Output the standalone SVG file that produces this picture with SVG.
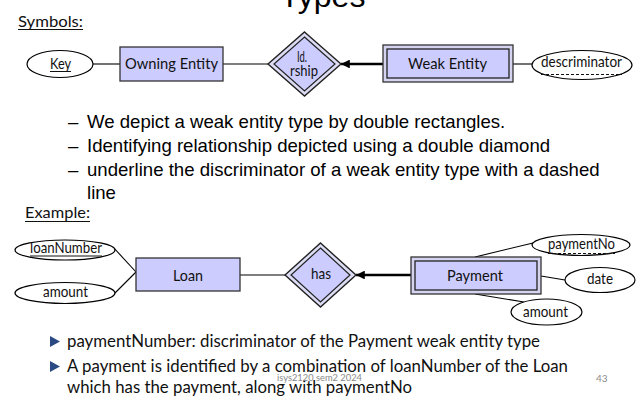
<svg xmlns="http://www.w3.org/2000/svg" width="640" height="404" viewBox="0 0 640 404">
<style>
.ent{fill:#ccccff;stroke:#333;stroke-width:1.3}
.attr{fill:#fff;stroke:#000;stroke-width:1.2}
.conn{stroke:#000;stroke-width:1.1;fill:none}
.idconn{stroke:#000;stroke-width:2.6;fill:none}
.lbl{font-family:Lato,"Open Sans","Noto Sans",sans-serif;font-size:15px;fill:#111;text-anchor:middle}
.ul{stroke:#111;stroke-width:1}
.dul{stroke:#111;stroke-width:1;stroke-dasharray:3,2}
.arial{font-family:"Liberation Sans",Arial,sans-serif;fill:#000}
.cal{font-family:Lato,"Open Sans","Noto Sans",sans-serif;fill:#111}
</style>
<defs>
<marker id="ah" viewBox="0 0 10 10" refX="10" refY="5" markerWidth="3.4" markerHeight="3.4" orient="auto-start-reverse" markerUnits="strokeWidth">
<path d="M0,0 L10,5 L0,10 z" fill="#000"/>
</marker>
</defs>
<rect width="640" height="404" fill="#fff"/>

<text x="280" y="7" class="arial" font-size="32">Types</text>

<g id="symbols-heading">
<text x="18" y="26.5" class="cal" font-size="16" textLength="65" lengthAdjust="spacingAndGlyphs">Symbols:</text>
<line x1="18" y1="29.5" x2="83" y2="29.5" class="ul"/>
</g>

<g id="connectors">
<line x1="93" y1="64" x2="120" y2="64" class="conn"/>
<line x1="223" y1="64" x2="268" y2="64" class="conn"/>
<line x1="383" y1="64" x2="341" y2="64" class="idconn" marker-end="url(#ah)"/>
<line x1="513" y1="64" x2="532" y2="64" class="conn"/>
<line x1="113" y1="247" x2="136" y2="272" class="conn"/>
<line x1="115" y1="293" x2="136" y2="272" class="conn"/>
<line x1="240" y1="275" x2="285" y2="275" class="conn"/>
<line x1="411" y1="275" x2="356" y2="275" class="idconn" marker-end="url(#ah)"/>
<line x1="475" y1="257" x2="533" y2="243" class="conn"/>
<line x1="541" y1="276" x2="565" y2="280" class="conn"/>
<line x1="475" y1="294" x2="524" y2="302" class="conn"/>
</g>

<g id="key">
<ellipse cx="60" cy="64" rx="33" ry="13.5" class="attr"/>
<text x="60.5" y="68.5" class="lbl" font-size="14" textLength="21" lengthAdjust="spacingAndGlyphs">Key</text>
<line x1="50" y1="71.5" x2="71" y2="71.5" class="ul"/>
</g>

<g id="owning-entity">
<rect x="120" y="47" width="103" height="34" class="ent"/>
<text x="171.5" y="69" class="lbl" textLength="93" lengthAdjust="spacingAndGlyphs">Owning Entity</text>
</g>

<g id="id-rship">
<polygon points="304.5,32 341,64 304.5,96 268,64" class="ent" style="fill:#dcdcf4;stroke:#222;stroke-width:1.4"/>
<polygon points="304.5,37 335,64 304.5,91 274,64" class="ent" style="stroke:#222;stroke-width:1.2"/>
<text x="302" y="61.5" class="lbl" font-size="11.5" textLength="10" lengthAdjust="spacingAndGlyphs">Id.</text>
<text x="304" y="75.5" class="lbl" font-size="11.5" textLength="28" lengthAdjust="spacingAndGlyphs">rship</text>
</g>

<g id="weak-entity">
<rect x="383" y="45" width="130" height="37" class="ent" style="fill:#d4d4f0;stroke:#333"/>
<rect x="387" y="49" width="122" height="29" class="ent" style="stroke:#222"/>
<text x="447.5" y="68.5" class="lbl" textLength="79" lengthAdjust="spacingAndGlyphs">Weak Entity</text>
</g>

<g id="discriminator">
<ellipse cx="582" cy="65" rx="50" ry="14.5" class="attr"/>
<text x="581.5" y="67" class="lbl" font-size="14" textLength="81" lengthAdjust="spacingAndGlyphs">descriminator</text>
<line x1="541" y1="74.5" x2="622" y2="74.5" class="dul"/>
</g>

<g id="dash-bullets" class="arial" font-size="18.6">
<text x="68" y="128">–</text>
<text x="87" y="128">We depict a weak entity type by double rectangles.</text>
<text x="68" y="152">–</text>
<text x="87" y="152">Identifying relationship depicted using a double diamond</text>
<text x="68" y="176">–</text>
<text x="87" y="176">underline the discriminator of a weak entity type with a dashed</text>
<text x="87" y="198.5">line</text>
</g>

<g id="example-heading">
<text x="25" y="218" class="cal" font-size="16" textLength="65" lengthAdjust="spacingAndGlyphs">Example:</text>
<line x1="25" y1="221.5" x2="90" y2="221.5" class="ul"/>
</g>

<g id="loanNumber">
<ellipse cx="65" cy="250" rx="50" ry="10" class="attr"/>
<text x="66" y="253" class="lbl" font-size="13.5" textLength="72" lengthAdjust="spacingAndGlyphs">loanNumber</text>
<line x1="30" y1="256" x2="102" y2="256" class="ul"/>
</g>

<g id="loan-amount">
<ellipse cx="65" cy="293" rx="50" ry="10.5" class="attr"/>
<text x="65.5" y="297" class="lbl" font-size="13.5" textLength="45" lengthAdjust="spacingAndGlyphs">amount</text>
</g>

<g id="loan">
<rect x="136" y="258" width="104" height="33" class="ent"/>
<text x="188" y="281" class="lbl" textLength="30" lengthAdjust="spacingAndGlyphs">Loan</text>
</g>

<g id="has">
<polygon points="320.5,243 356,275 320.5,307 285,275" class="ent" style="fill:#dcdcf4;stroke:#222;stroke-width:1.4"/>
<polygon points="320.5,248 350,275 320.5,302 291,275" class="ent" style="stroke:#222;stroke-width:1.2"/>
<text x="321" y="279" class="lbl" font-size="13" textLength="20" lengthAdjust="spacingAndGlyphs">has</text>
</g>

<g id="payment">
<rect x="411" y="257" width="130" height="37" class="ent" style="fill:#d4d4f0;stroke:#333"/>
<rect x="415" y="261" width="122" height="29" class="ent" style="stroke:#222"/>
<text x="475" y="281" class="lbl" textLength="56" lengthAdjust="spacingAndGlyphs">Payment</text>
</g>

<g id="paymentNo">
<ellipse cx="581" cy="245" rx="49" ry="10.5" class="attr"/>
<text x="581.5" y="249" class="lbl" font-size="13.5" textLength="67" lengthAdjust="spacingAndGlyphs">paymentNo</text>
<line x1="548" y1="253.5" x2="615" y2="253.5" class="dul"/>
</g>

<g id="date">
<ellipse cx="600" cy="280" rx="35" ry="12.5" class="attr"/>
<text x="600" y="284" class="lbl" font-size="13.5" textLength="26" lengthAdjust="spacingAndGlyphs">date</text>
</g>

<g id="payment-amount">
<ellipse cx="546.5" cy="312" rx="35.5" ry="13" class="attr"/>
<text x="545.5" y="317" class="lbl" font-size="13.5" textLength="45" lengthAdjust="spacingAndGlyphs">amount</text>
</g>

<g id="notes">
<polygon points="50,336 60,341.5 50,347" fill="#2b4a84"/>
<text x="67" y="347" class="cal" font-size="17.5" textLength="473" lengthAdjust="spacingAndGlyphs">paymentNumber: discriminator of the Payment weak entity type</text>
<polygon points="50,361 60,366.5 50,372" fill="#2b4a84"/>
<text x="67" y="371.5" class="cal" font-size="17.5" textLength="501" lengthAdjust="spacingAndGlyphs">A payment is identified by a combination of loanNumber of the Loan</text>
<text x="67" y="393" class="cal" font-size="17.5" textLength="345" lengthAdjust="spacingAndGlyphs">which has the payment, along with paymentNo</text>
</g>

<g id="footer">
<text x="277" y="381" class="cal" font-size="9.5" style="fill:#8a8a8a" textLength="85" lengthAdjust="spacingAndGlyphs">isys2120 sem2 2024</text>
<text x="596" y="382" class="cal" font-size="10" style="fill:#8a8a8a">43</text>
</g>
</svg>
